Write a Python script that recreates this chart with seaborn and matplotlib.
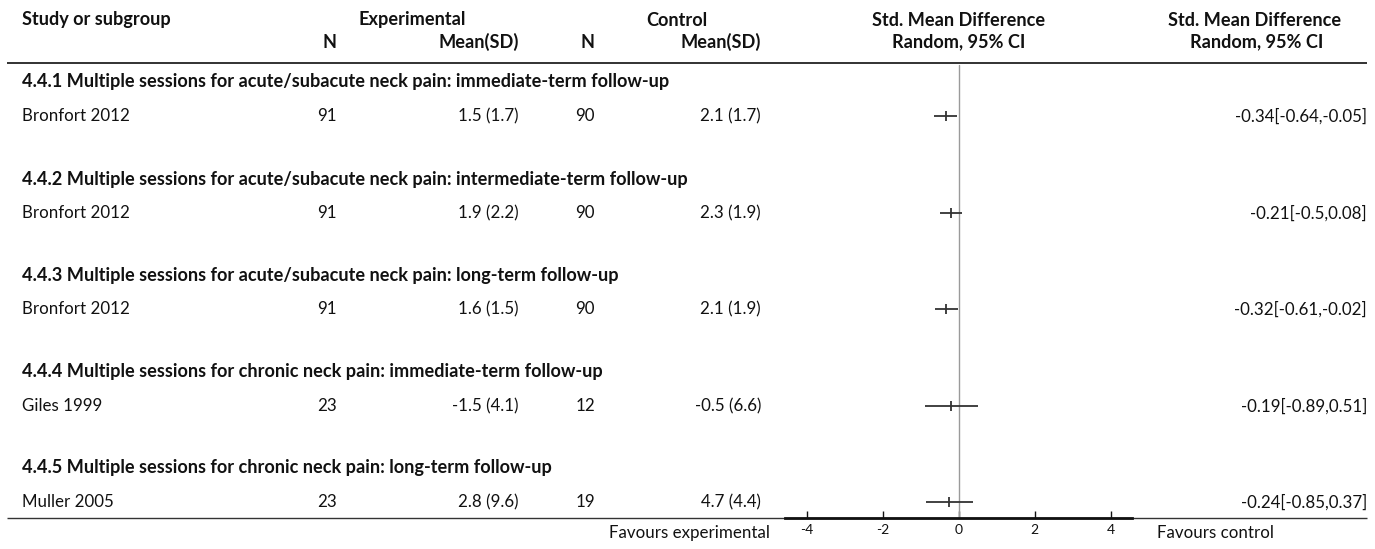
import matplotlib
matplotlib.use("Agg")
import matplotlib.pyplot as plt
import seaborn as sns
import pandas as pd

# --- data -------------------------------------------------------------
groups = [
    "4.4.1 Multiple sessions for acute/subacute neck pain: immediate-term follow-up",
    "4.4.2 Multiple sessions for acute/subacute neck pain: intermediate-term follow-up",
    "4.4.3 Multiple sessions for acute/subacute neck pain: long-term follow-up",
    "4.4.4 Multiple sessions for chronic neck pain: immediate-term follow-up",
    "4.4.5 Multiple sessions for chronic neck pain: long-term follow-up",
]
studies = ["Bronfort 2012", "Bronfort 2012", "Bronfort 2012", "Giles 1999", "Muller 2005"]
exp_n = [91, 91, 91, 23, 23]
exp_msd = ["1.5 (1.7)", "1.9 (2.2)", "1.6 (1.5)", "-1.5 (4.1)", "2.8 (9.6)"]
ctl_n = [90, 90, 90, 12, 19]
ctl_msd = ["2.1 (1.7)", "2.3 (1.9)", "2.1 (1.9)", "-0.5 (6.6)", "4.7 (4.4)"]
smd = [-0.34, -0.21, -0.32, -0.19, -0.24]
ci_lo = [-0.64, -0.5, -0.61, -0.89, -0.85]
ci_hi = [-0.05, 0.08, -0.02, 0.51, 0.37]
ci_text = ["-0.34[-0.64,-0.05]", "-0.21[-0.5,0.08]", "-0.32[-0.61,-0.02]",
           "-0.19[-0.89,0.51]", "-0.24[-0.85,0.37]"]
xticks = [-4, -2, 0, 2, 4]

sns.set_theme(style="white")
plt.rcParams["font.family"] = ["Lato", "DejaVu Sans"]

W, H = 1375, 549
fig = plt.figure(figsize=(W / 100, H / 100), dpi=100)

# table canvas in pixel units
tab = fig.add_axes([0, 0, 1, 1])
tab.set_xlim(0, W)
tab.set_ylim(H, 0)
tab.axis("off")

FS_BOLD = 13.1
FS_REG = 12.2
TXT = "#111111"

def t(x, y, s, ha="left", bold=False):
    tab.text(x, y, s, ha=ha, va="center",
             fontsize=FS_BOLD if bold else FS_REG,
             fontweight="bold" if bold else "normal", color=TXT)

# header
t(22, 20, "Study or subgroup", bold=True)
t(412, 20, "Experimental", ha="center", bold=True)
t(677, 20, "Control", ha="center", bold=True)
t(959, 20, "Std. Mean Difference", ha="center", bold=True)
t(1255, 20, "Std. Mean Difference", ha="center", bold=True)
t(337, 42, "N", ha="right", bold=True)
t(519, 42, "Mean(SD)", ha="right", bold=True)
t(595, 42, "N", ha="right", bold=True)
t(761, 42, "Mean(SD)", ha="right", bold=True)
t(959, 42, "Random, 95% CI", ha="center", bold=True)
t(1257, 42, "Random, 95% CI", ha="center", bold=True)
tab.plot([7, 1367], [63, 63], color="#222222", lw=1.3, solid_capstyle="butt")

group_y = [82, 179, 275, 371, 468]
row_y = [116, 213, 309, 406, 502]
for i in range(len(groups)):
    t(22, group_y[i], groups[i], bold=True)
    t(22, row_y[i], studies[i])
    t(337, row_y[i], str(exp_n[i]), ha="right")
    t(519, row_y[i], exp_msd[i], ha="right")
    t(595, row_y[i], str(ctl_n[i]), ha="right")
    t(761, row_y[i], ctl_msd[i], ha="right")
    t(1367, row_y[i], ci_text[i], ha="right")

tab.plot([7, 1367], [518, 518], color="#333333", lw=1.0, solid_capstyle="butt")
t(770, 533, "Favours experimental", ha="right")
t(1157, 533, "Favours control")

# forest panel
x0, x1 = 785, 1132
y_top, y_bot = 63, 518
fax = fig.add_axes([x0 / W, 1 - y_bot / H, (x1 - x0) / W, (y_bot - y_top) / H])
fax.patch.set_alpha(0)
half = (x1 - x0) / 2 / 38.0
fax.set_xlim(-half, half)
fax.set_ylim(y_bot, y_top)
for s in ["top", "left", "right"]:
    fax.spines[s].set_visible(False)
fax.spines["bottom"].set_linewidth(2.0)
fax.spines["bottom"].set_color("#111111")
fax.set_yticks([])
fax.set_xticks(xticks)
fax.set_xticklabels([str(v) for v in xticks])
fax.tick_params(axis="x", direction="in", length=5, width=1, colors="#111111",
                labelsize=10, pad=4, bottom=True)
fax.axvline(0, ymin=0, ymax=1 - 2 / (y_bot - y_top), color="#9a9a9a", lw=1.0)

df = pd.DataFrame({"smd": smd, "lo": ci_lo, "hi": ci_hi, "y": row_y})
fax.hlines(df["y"], df["lo"], df["hi"], color="#333333", lw=1.3)
sns.scatterplot(data=df, x="smd", y="y", marker="|", s=55, linewidth=1.3,
                color="#333333", ax=fax, legend=False, clip_on=False)
fax.set_xlabel("")
fax.set_ylabel("")

fig.savefig("out.png", dpi=100)
